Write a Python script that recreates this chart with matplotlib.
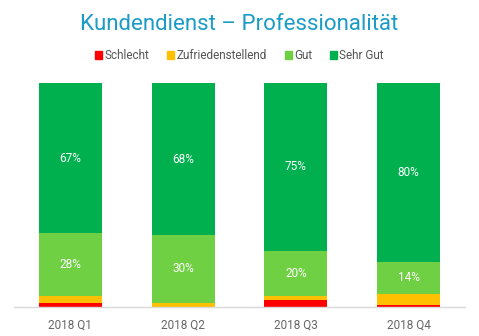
import numpy as np
import matplotlib.pyplot as plt
from matplotlib.patches import Patch

quarters = ["2018 Q1", "2018 Q2", "2018 Q3", "2018 Q4"]
series = ["Schlecht", "Zufriedenstellend", "Gut", "Sehr Gut"]
schlecht = [2, 0, 3, 1]
zufrieden = [3, 2, 2, 5]
gut = [28, 30, 20, 14]
sehr_gut = [67, 68, 75, 80]
colors = ["#FF0000", "#FFC000", "#70D044", "#00B04F"]

plt.rcParams['font.family'] = ['Roboto', 'DejaVu Sans']

fig = plt.figure(figsize=(4.79, 3.36), dpi=100)
ax = fig.add_axes([14 / 479, 29 / 336, 451 / 479, 224 / 336])

x = np.arange(len(quarters))
values = [schlecht, zufrieden, gut, sehr_gut]
bottom = np.zeros(len(quarters))
for name, vals, col in zip(series, values, colors):
    vals = np.array(vals, dtype=float)
    ax.bar(x, vals, 0.56, bottom=bottom, color=col, label=name)
    if name in ("Gut", "Sehr Gut"):
        for xi, b, v in zip(x, bottom, vals):
            ax.text(xi, b + v / 2, f"{int(v)}%", ha='center', va='center',
                    color='white', fontsize=8.5)
    bottom += vals

ax.set_xlim(-0.5, 3.5)
ax.set_ylim(0, 100)
ax.set_yticks([])
ax.set_xticks(x)
ax.set_xticklabels(quarters, fontsize=8.5, color='#666666')
ax.tick_params(axis='x', length=0, pad=8)
for s in ['top', 'right', 'left']:
    ax.spines[s].set_visible(False)
ax.spines['bottom'].set_color('#D9D9D9')
ax.spines['bottom'].set_linewidth(1)

fig.text(0.5, 0.928, "Kundendienst \u2013 Professionalität", ha='center', va='center',
         fontsize=16, color='#1A9CC6')

handles = [Patch(color=c, label=n) for n, c in zip(series, colors)]
fig.legend(handles=handles, loc='center', bbox_to_anchor=(0.5, 0.835), ncol=4,
           frameon=False, fontsize=8.5, handlelength=0.6, handleheight=0.6,
           handletextpad=0.2, columnspacing=1.5, labelcolor='#555555')

fig.savefig("out.png", dpi=100)
